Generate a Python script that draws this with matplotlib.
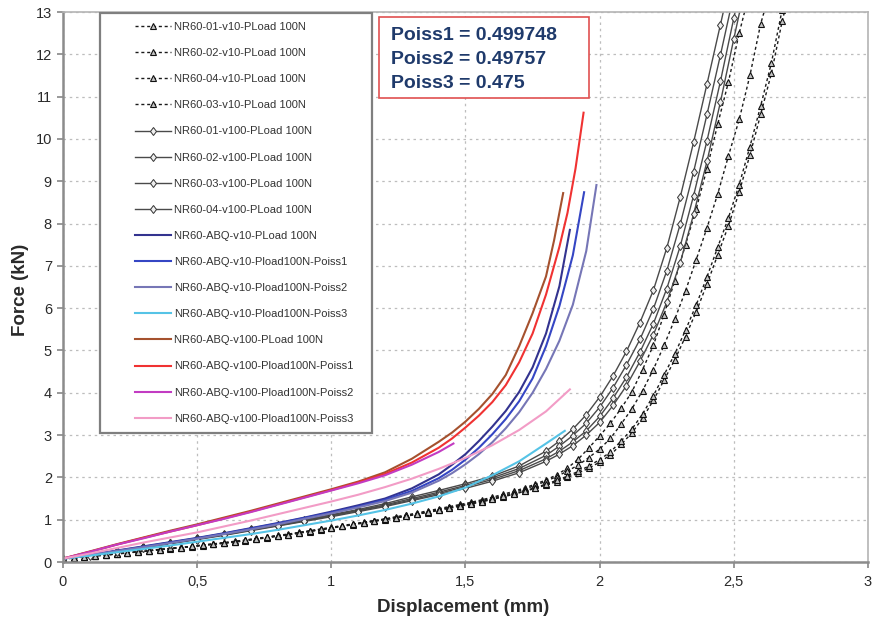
import matplotlib
matplotlib.use("Agg")
import matplotlib.pyplot as plt
from matplotlib.patches import Rectangle

plt.rcParams['font.family'] = ['Liberation Sans', 'DejaVu Sans']

# ---------------- data ----------------
# displacement grid of the v10 test records (mm)
DISP_V10 = [0.00, 0.04, 0.08, 0.12, 0.16, 0.20, 0.24, 0.28, 0.32, 0.36,
            0.40, 0.44, 0.48, 0.52, 0.56, 0.60, 0.64, 0.68, 0.72, 0.76,
            0.80, 0.84, 0.88, 0.92, 0.96, 1.00, 1.04, 1.08, 1.12, 1.16,
            1.20, 1.24, 1.28, 1.32, 1.36, 1.40, 1.44, 1.48, 1.52, 1.56,
            1.60, 1.64, 1.68, 1.72, 1.76, 1.80, 1.84, 1.88, 1.92, 1.96,
            2.00, 2.04, 2.08, 2.12, 2.16, 2.20, 2.24, 2.28, 2.32, 2.36,
            2.40, 2.44, 2.48, 2.52, 2.56, 2.60, 2.64, 2.68, 2.72]

# force (kN) of the v10 tests
F_V10_01 = [0.08, 0.10, 0.13, 0.15, 0.17, 0.20, 0.22, 0.25, 0.27, 0.30,
            0.32, 0.35, 0.37, 0.40, 0.43, 0.46, 0.49, 0.52, 0.56, 0.59,
            0.63, 0.66, 0.70, 0.74, 0.78, 0.82, 0.86, 0.90, 0.94, 0.98,
            1.02, 1.07, 1.11, 1.16, 1.21, 1.26, 1.31, 1.36, 1.41, 1.47,
            1.53, 1.60, 1.67, 1.75, 1.84, 1.94, 2.06, 2.22, 2.43, 2.70,
            2.98, 3.28, 3.63, 4.02, 4.55, 5.12, 5.85, 6.65, 7.50, 8.35,
            9.30, 10.35, 11.35, 12.50, 13.50]
F_V10_02 = [0.08, 0.10, 0.12, 0.15, 0.17, 0.19, 0.22, 0.24, 0.27, 0.29,
            0.32, 0.34, 0.37, 0.40, 0.42, 0.45, 0.48, 0.51, 0.55, 0.58,
            0.62, 0.65, 0.69, 0.73, 0.77, 0.81, 0.85, 0.89, 0.93, 0.97,
            1.01, 1.05, 1.10, 1.14, 1.19, 1.24, 1.29, 1.34, 1.39, 1.45,
            1.51, 1.57, 1.64, 1.72, 1.81, 1.91, 2.02, 2.15, 2.29, 2.47,
            2.67, 2.92, 3.26, 3.62, 4.05, 4.55, 5.12, 5.74, 6.41, 7.15,
            7.90, 8.70, 9.60, 10.46, 11.50, 12.72, 13.60]
F_V10_04 = [0.07, 0.09, 0.12, 0.14, 0.16, 0.19, 0.21, 0.24, 0.26, 0.29,
            0.31, 0.34, 0.36, 0.39, 0.42, 0.44, 0.47, 0.50, 0.54, 0.57,
            0.61, 0.64, 0.68, 0.72, 0.76, 0.80, 0.84, 0.88, 0.92, 0.96,
            1.00, 1.04, 1.08, 1.13, 1.17, 1.22, 1.27, 1.32, 1.37, 1.42,
            1.48, 1.54, 1.60, 1.67, 1.74, 1.82, 1.90, 2.00, 2.10, 2.22,
            2.36, 2.53, 2.78, 3.05, 3.40, 3.82, 4.30, 4.78, 5.33, 5.92,
            6.57, 7.26, 7.95, 8.75, 9.62, 10.58, 11.55, 12.78, 13.80]
F_V10_03 = [0.08, 0.10, 0.12, 0.15, 0.17, 0.19, 0.22, 0.24, 0.27, 0.29,
            0.32, 0.34, 0.37, 0.40, 0.42, 0.45, 0.48, 0.51, 0.55, 0.58,
            0.62, 0.65, 0.69, 0.73, 0.77, 0.81, 0.85, 0.89, 0.93, 0.97,
            1.01, 1.05, 1.09, 1.14, 1.18, 1.23, 1.28, 1.33, 1.38, 1.43,
            1.49, 1.55, 1.61, 1.68, 1.76, 1.84, 1.93, 2.03, 2.14, 2.27,
            2.42, 2.60, 2.86, 3.14, 3.50, 3.93, 4.42, 4.92, 5.48, 6.08,
            6.74, 7.44, 8.14, 8.92, 9.82, 10.78, 11.80, 13.05]

# displacement grid of the v100 test records (mm)
DISP_V100 = [0.0, 0.1, 0.2, 0.3, 0.4, 0.5, 0.6, 0.7, 0.8, 0.9, 1.0, 1.1,
             1.2, 1.3, 1.4, 1.5, 1.6, 1.7, 1.8, 1.85, 1.90, 1.95, 2.00,
             2.05, 2.10, 2.15, 2.20, 2.25, 2.30, 2.35, 2.40, 2.45, 2.50, 2.55]

F_V100_01 = [0.08, 0.17, 0.26, 0.36, 0.46, 0.56, 0.66, 0.77, 0.88, 1.00,
             1.12, 1.24, 1.38, 1.54, 1.69, 1.85, 2.03, 2.27, 2.62, 2.86,
             3.14, 3.48, 3.90, 4.40, 4.98, 5.66, 6.42, 7.42, 8.62, 9.92,
             11.30, 12.70, 14.10]
F_V100_02 = [0.08, 0.16, 0.25, 0.35, 0.45, 0.55, 0.65, 0.76, 0.87, 0.98,
             1.10, 1.22, 1.35, 1.50, 1.65, 1.81, 1.99, 2.21, 2.52, 2.74,
             2.99, 3.28, 3.66, 4.12, 4.66, 5.26, 5.98, 6.88, 7.98, 9.22,
             10.58, 11.98, 13.42]
F_V100_03 = [0.08, 0.16, 0.25, 0.34, 0.44, 0.54, 0.64, 0.75, 0.86, 0.97,
             1.09, 1.21, 1.33, 1.47, 1.62, 1.78, 1.95, 2.16, 2.44, 2.62,
             2.84, 3.10, 3.44, 3.87, 4.37, 4.96, 5.63, 6.46, 7.46, 8.66,
             9.96, 11.36, 12.86, 14.30]
F_V100_04 = [0.08, 0.15, 0.24, 0.33, 0.43, 0.53, 0.63, 0.74, 0.85, 0.96,
             1.07, 1.19, 1.31, 1.45, 1.59, 1.74, 1.91, 2.11, 2.38, 2.55,
             2.75, 3.00, 3.30, 3.70, 4.17, 4.74, 5.37, 6.14, 7.07, 8.22,
             9.47, 10.87, 12.37, 13.82]

# Abaqus simulations, v10
D_ABQ10 = [0.0, 0.1, 0.2, 0.3, 0.4, 0.5, 0.6, 0.7, 0.8, 0.9, 1.0, 1.1,
           1.2, 1.3, 1.4, 1.45, 1.5, 1.55, 1.6, 1.65, 1.7, 1.75, 1.8, 1.85, 1.889]
F_ABQ10 = [0.08, 0.17, 0.27, 0.37, 0.47, 0.57, 0.68, 0.80, 0.92, 1.05, 1.19,
           1.34, 1.50, 1.74, 2.07, 2.30, 2.55, 2.86, 3.20, 3.57, 4.02, 4.60,
           5.40, 6.52, 7.85]
D_ABQ10_P1 = [0.0, 0.1, 0.2, 0.3, 0.4, 0.5, 0.6, 0.7, 0.8, 0.9, 1.0, 1.1,
              1.2, 1.3, 1.4, 1.45, 1.5, 1.55, 1.6, 1.65, 1.7, 1.75, 1.8, 1.85,
              1.9, 1.942]
F_ABQ10_P1 = [0.08, 0.17, 0.26, 0.36, 0.46, 0.56, 0.67, 0.79, 0.91, 1.04,
              1.17, 1.31, 1.47, 1.68, 1.98, 2.18, 2.42, 2.70, 3.02, 3.38,
              3.80, 4.34, 5.10, 6.05, 7.25, 8.74]
D_ABQ10_P2 = [0.0, 0.1, 0.2, 0.3, 0.4, 0.5, 0.6, 0.7, 0.8, 0.9, 1.0, 1.1,
              1.2, 1.3, 1.4, 1.45, 1.5, 1.55, 1.6, 1.65, 1.7, 1.75, 1.8, 1.85,
              1.9, 1.95, 1.988]
F_ABQ10_P2 = [0.08, 0.16, 0.26, 0.35, 0.45, 0.55, 0.66, 0.77, 0.89, 1.02,
              1.15, 1.29, 1.44, 1.64, 1.92, 2.10, 2.31, 2.55, 2.83, 3.16,
              3.54, 4.00, 4.56, 5.23, 6.08, 7.35, 8.91]
D_ABQ10_P3 = [0.0, 0.1, 0.2, 0.3, 0.4, 0.5, 0.6, 0.7, 0.8, 0.9, 1.0, 1.1,
              1.2, 1.3, 1.4, 1.5, 1.6, 1.7, 1.8, 1.87]
F_ABQ10_P3 = [0.08, 0.15, 0.23, 0.31, 0.39, 0.48, 0.57, 0.66, 0.76, 0.87,
              0.98, 1.10, 1.23, 1.38, 1.55, 1.76, 2.05, 2.38, 2.80, 3.10]

# Abaqus simulations, v100
D_ABQ100 = [0.0, 0.1, 0.2, 0.3, 0.4, 0.5, 0.6, 0.7, 0.8, 0.9, 1.0, 1.1,
            1.2, 1.3, 1.4, 1.45, 1.5, 1.55, 1.6, 1.65, 1.7, 1.75, 1.8, 1.83, 1.864]
F_ABQ100 = [0.08, 0.25, 0.42, 0.58, 0.74, 0.89, 1.05, 1.21, 1.38, 1.55,
            1.72, 1.90, 2.12, 2.44, 2.84, 3.06, 3.32, 3.62, 3.97, 4.42,
            5.10, 5.88, 6.75, 7.60, 8.72]
D_ABQ100_P1 = [0.0, 0.1, 0.2, 0.3, 0.4, 0.5, 0.6, 0.7, 0.8, 0.9, 1.0, 1.1,
               1.2, 1.3, 1.4, 1.45, 1.5, 1.55, 1.6, 1.65, 1.7, 1.75, 1.8,
               1.85, 1.88, 1.91, 1.94]
F_ABQ100_P1 = [0.08, 0.24, 0.41, 0.57, 0.72, 0.87, 1.03, 1.19, 1.36, 1.53,
               1.70, 1.88, 2.08, 2.35, 2.70, 2.92, 3.18, 3.46, 3.78, 4.18,
               4.72, 5.40, 6.32, 7.45, 8.25, 9.30, 10.62]
D_ABQ100_P2 = [0.0, 0.1, 0.2, 0.3, 0.4, 0.5, 0.6, 0.7, 0.8, 0.9, 1.0, 1.1,
               1.2, 1.3, 1.4, 1.455]
F_ABQ100_P2 = [0.08, 0.24, 0.41, 0.56, 0.72, 0.87, 1.02, 1.18, 1.35, 1.52,
               1.69, 1.86, 2.05, 2.30, 2.60, 2.80]
D_ABQ100_P3 = [0.0, 0.1, 0.2, 0.3, 0.4, 0.5, 0.6, 0.7, 0.8, 0.9, 1.0, 1.1,
               1.2, 1.3, 1.4, 1.5, 1.6, 1.7, 1.8, 1.889]
F_ABQ100_P3 = [0.08, 0.20, 0.33, 0.46, 0.58, 0.70, 0.84, 0.98, 1.13, 1.28,
               1.43, 1.59, 1.77, 1.97, 2.20, 2.46, 2.76, 3.12, 3.56, 4.08]

POISSON = [("Poiss1", "0.499748"), ("Poiss2", "0.49757"), ("Poiss3", "0.475")]

X_TICKS = [0, 0.5, 1, 1.5, 2, 2.5, 3]
X_TICK_LABELS = ["0", "0,5", "1", "1,5", "2", "2,5", "3"]
Y_TICKS = list(range(0, 14))

# ---------------- figure ----------------
fig = plt.figure(figsize=(8.78, 6.26), dpi=100)
ax = fig.add_axes([63 / 878, 1 - 562 / 626, 805 / 878, 550 / 626])

dotted = dict(color='#1a1a1a', linestyle=(0, (2.2, 2.0)), linewidth=1.0,
              marker='^', markersize=5, markerfacecolor='#c4c4c4',
              markeredgecolor='#111111', markeredgewidth=0.8)
solid = dict(color='#4a4a4a', linestyle='-', linewidth=1.0,
             marker='d', markersize=4.5, markerfacecolor='#eeeeee',
             markeredgecolor='#333333', markeredgewidth=0.7)

lines = []
for lab, f in [("NR60-01-v10-PLoad 100N", F_V10_01),
               ("NR60-02-v10-PLoad 100N", F_V10_02),
               ("NR60-04-v10-PLoad 100N", F_V10_04),
               ("NR60-03-v10-PLoad 100N", F_V10_03)]:
    lines += ax.plot(DISP_V10[:len(f)], f, label=lab, **dotted)

for lab, f in [("NR60-01-v100-PLoad 100N", F_V100_01),
               ("NR60-02-v100-PLoad 100N", F_V100_02),
               ("NR60-03-v100-PLoad 100N", F_V100_03),
               ("NR60-04-v100-PLoad 100N", F_V100_04)]:
    lines += ax.plot(DISP_V100[:len(f)], f, label=lab, **solid)

sim = [
    ("NR60-ABQ-v10-PLoad 100N", D_ABQ10, F_ABQ10, '#33338f'),
    ("NR60-ABQ-v10-Pload100N-Poiss1", D_ABQ10_P1, F_ABQ10_P1, '#3546c4'),
    ("NR60-ABQ-v10-Pload100N-Poiss2", D_ABQ10_P2, F_ABQ10_P2, '#7676b6'),
    ("NR60-ABQ-v10-Pload100N-Poiss3", D_ABQ10_P3, F_ABQ10_P3, '#55c3e6'),
    ("NR60-ABQ-v100-PLoad 100N", D_ABQ100, F_ABQ100, '#a5512e'),
    ("NR60-ABQ-v100-Pload100N-Poiss1", D_ABQ100_P1, F_ABQ100_P1, '#f03232'),
    ("NR60-ABQ-v100-Pload100N-Poiss2", D_ABQ100_P2, F_ABQ100_P2, '#c23cc2'),
    ("NR60-ABQ-v100-Pload100N-Poiss3", D_ABQ100_P3, F_ABQ100_P3, '#f29cc6'),
]
for lab, d, f, c in sim:
    lines += ax.plot(d, f, label=lab, color=c, linewidth=1.5)

# axes styling
ax.set_xlim(0, 3)
ax.set_ylim(0, 13)
ax.set_xticks(X_TICKS)
ax.set_xticklabels(X_TICK_LABELS)
ax.set_yticks(Y_TICKS)
ax.tick_params(axis='both', direction='out', length=4, width=1.2,
               colors='#888888', labelcolor='#2a2a2a', labelsize=10.5)
ax.tick_params(axis='x', pad=5)
ax.tick_params(axis='y', pad=4)
ax.grid(True, color='#bdbdbd', linestyle=(0, (2, 3)), linewidth=0.9)
ax.set_axisbelow(True)
for s in ('left', 'bottom'):
    ax.spines[s].set_color('#8c8c8c')
    ax.spines[s].set_linewidth(1.8)
for s in ('top', 'right'):
    ax.spines[s].set_color('#b4b4b4')
    ax.spines[s].set_linewidth(1.2)

fig.text(21 / 878, 1 - 290 / 626, "Force (kN)", rotation=90, ha='center',
         va='center', fontsize=13.5, fontweight='bold', color='#2a2a2a')
fig.text(463 / 878, 1 - 608 / 626, "Displacement (mm)", ha='center',
         va='center', fontsize=13.5, fontweight='bold', color='#2a2a2a')

# legend frame and entries
ax.add_patch(Rectangle(((100 - 63) / 805, (562 - 433) / 550),
                       (372 - 100) / 805, (433 - 13) / 550,
                       transform=ax.transAxes, facecolor='white',
                       edgecolor='#7f7f7f', linewidth=1.6, zorder=5))
leg = ax.legend(handles=lines, loc='upper left',
                bbox_to_anchor=((135 - 63) / 805, (562 - 22) / 550),
                frameon=False, fontsize=8, labelspacing=1.45,
                handlelength=3.2, handletextpad=0.35, borderpad=0,
                borderaxespad=0)
leg.set_zorder(6)
for t in leg.get_texts():
    t.set_color('#333333')

# Poisson ratio box
ax.add_patch(Rectangle(((379 - 63) / 805, (562 - 98) / 550),
                       (589 - 379) / 805, (98 - 17) / 550,
                       transform=ax.transAxes, facecolor='white',
                       edgecolor='#e05050', linewidth=1.2, zorder=5))
for (name, val), ypx in zip(POISSON, [35, 60, 84]):
    ax.text((391 - 63) / 805, (562 - ypx) / 550, f"{name} = {val}",
            transform=ax.transAxes, ha='left', va='center', fontsize=14,
            fontweight='bold', color='#1f3a6b', zorder=6)

fig.savefig("out.png", dpi=100)
